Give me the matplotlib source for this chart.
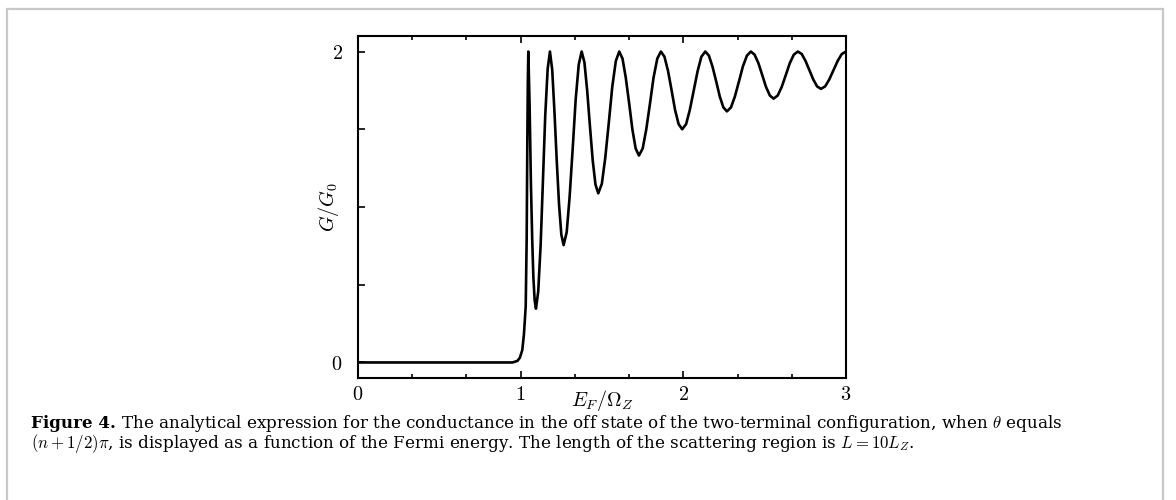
import matplotlib
matplotlib.use("Agg")
import matplotlib.pyplot as plt
from matplotlib.patches import Rectangle

plt.rcParams['mathtext.fontset'] = 'cm'

# conductance (E_F / Omega_Z , G / G_0)
energy = [0.0, 0.95, 0.98, 0.995, 1.01, 1.02, 1.031, 1.037, 1.041, 1.044, 1.047,
          1.055, 1.063, 1.071, 1.078, 1.086, 1.094,
          1.108, 1.123, 1.137, 1.151, 1.166, 1.180,
          1.194, 1.208, 1.222, 1.236, 1.250, 1.264,
          1.283, 1.301, 1.320, 1.338, 1.357, 1.375,
          1.392, 1.409, 1.426, 1.443, 1.460, 1.477,
          1.499, 1.520, 1.542, 1.563, 1.585, 1.606,
          1.626, 1.646, 1.667, 1.687, 1.707, 1.727,
          1.750, 1.772, 1.795, 1.817, 1.840, 1.862,
          1.884, 1.906, 1.928, 1.949, 1.971, 1.993,
          2.017, 2.040, 2.064, 2.088, 2.111, 2.135,
          2.157, 2.179, 2.202, 2.224, 2.246, 2.268,
          2.293, 2.317, 2.342, 2.366, 2.391, 2.415,
          2.438, 2.462, 2.485, 2.508, 2.532, 2.555,
          2.580, 2.605, 2.630, 2.654, 2.679, 2.704,
          2.728, 2.751, 2.775, 2.799, 2.822, 2.846,
          2.872, 2.897, 2.923, 2.949, 2.974, 3.0]
cond = [0.0, 0.0, 0.01, 0.03, 0.08, 0.18, 0.36, 0.8, 1.43, 1.8, 2.0,
        1.65, 1.15, 0.79, 0.55, 0.40, 0.346,
        0.457, 0.760, 1.173, 1.587, 1.889, 2.0,
        1.882, 1.607, 1.293, 1.015, 0.823, 0.755,
        0.838, 1.066, 1.378, 1.689, 1.917, 2.0,
        1.930, 1.748, 1.518, 1.299, 1.144, 1.088,
        1.149, 1.316, 1.544, 1.772, 1.939, 2.0,
        1.955, 1.833, 1.666, 1.498, 1.376, 1.331,
        1.376, 1.498, 1.666, 1.833, 1.955, 2.0,
        1.967, 1.875, 1.75, 1.625, 1.533, 1.50,
        1.533, 1.625, 1.75, 1.875, 1.967, 2.0,
        1.974, 1.904, 1.808, 1.711, 1.641, 1.615,
        1.641, 1.711, 1.808, 1.904, 1.974, 2.0,
        1.980, 1.924, 1.849, 1.773, 1.717, 1.697,
        1.717, 1.773, 1.849, 1.924, 1.980, 2.0,
        1.984, 1.94, 1.88, 1.82, 1.776, 1.76,
        1.776, 1.82, 1.88, 1.94, 1.984, 2.0]

xticks = [0, 1, 2, 3]
xtick_labels = ['$0$', '$1$', '$2$', '$3$']
xminor = [1/3, 2/3, 4/3, 5/3, 7/3, 8/3]
yticks = [0, 0.5, 1, 1.5, 2]
ytick_labels = ['$0$', '', '', '', '$2$']

caption1 = (" The analytical expression for the conductance in the off state of the "
            "two-terminal configuration, when $\\theta$ equals")
caption2 = ("$(n+1/2)\\pi$, is displayed as a function of the Fermi energy. "
            "The length of the scattering region is $L=10L_Z$.")

fig = plt.figure(figsize=(11.76, 5.0), dpi=100)

# grey frame round the figure
fig.patches.append(Rectangle((7/1176, -0.1), 1156/1176, 1.1 - 9/500,
                             transform=fig.transFigure, fill=False,
                             edgecolor='#c8c8c8', linewidth=1.6))

ax = fig.add_axes([358/1176, 1 - 378/500, 488/1176, 342/500])
ax.plot(energy, cond, color='black', linewidth=1.9, solid_joinstyle='round')

ax.set_xlim(0, 3)
ax.set_ylim(-0.1, 2.1)
ax.set_xticks(xticks, labels=xtick_labels)
ax.set_xticks(xminor, minor=True)
ax.set_yticks(yticks, labels=ytick_labels)
ax.tick_params(axis='both', which='both', direction='in', width=1.2, labelsize=14.5)
ax.tick_params(axis='x', which='major', length=5, pad=5, top=True)
ax.tick_params(axis='x', which='minor', length=3, top=True)
ax.tick_params(axis='y', which='major', length=5, pad=11)
for s in ax.spines.values():
    s.set_linewidth(1.5)

ax.set_xlabel('$E_F/\\Omega_Z$', fontsize=14.5)
ax.xaxis.set_label_coords(0.5, -0.03)
ax.set_ylabel('$G/G_0$', fontsize=14.5)
ax.yaxis.set_label_coords(-0.035, 0.5)

cap_font = dict(fontsize=12.1, family='DejaVu Serif', va='baseline')
t1 = fig.text(31/1176, 1 - 428/500, 'Figure 4.', fontweight='bold', **cap_font)
r = fig.canvas.get_renderer()
w = t1.get_window_extent(r).width
fig.text((31 + w)/1176, 1 - 428/500, caption1, **cap_font)
fig.text(31/1176, 1 - 448/500, caption2, **cap_font)

fig.savefig('out.png', dpi=100)
